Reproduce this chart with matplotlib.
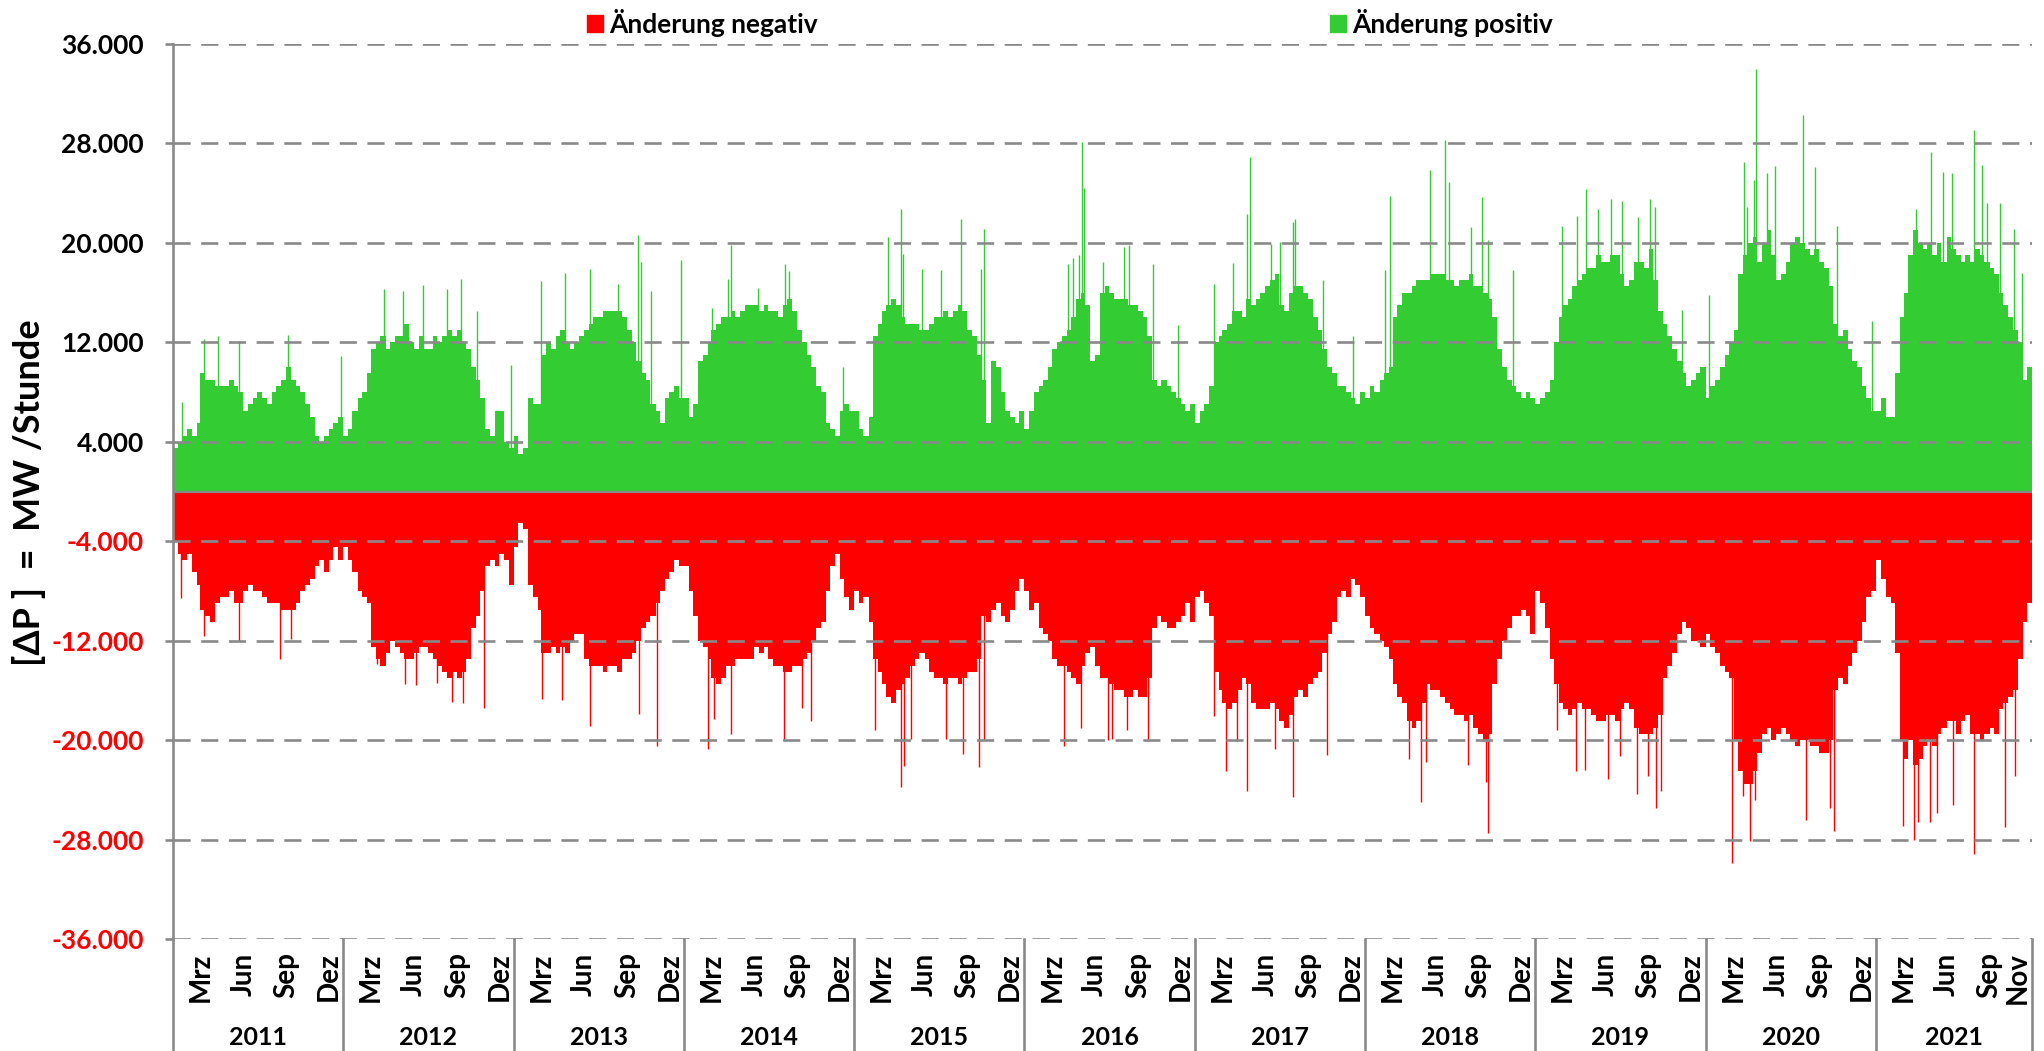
import numpy as np
import pandas as pd
import matplotlib
matplotlib.use('Agg')
import matplotlib.pyplot as plt
import matplotlib.dates as mdates
import matplotlib.transforms as mtransforms
from matplotlib.patches import Patch
from matplotlib.font_manager import FontProperties

plt.rcParams['font.family'] = ['Lato', 'DejaVu Sans']

years = list(range(2011, 2022))

# Werte je Dekade (1.-10., 11.-20., 21.-Monatsende), in 1000 MW
pos_2011 = [3.5, 4.0, 4.5, 5.0, 4.5, 5.5, 9.5, 9.0, 9.0, 8.5, 8.5, 8.5, 9.0, 8.5, 8.0, 6.5, 7.0, 7.5,
            8.0, 7.5, 7.0, 8.0, 8.5, 9.0, 10.0, 9.0, 8.5, 8.0, 7.0, 6.0, 4.5, 4.0, 4.5, 5.0, 5.5, 6.0]
pos_2012 = [4.5, 5.0, 6.5, 7.5, 8.0, 9.5, 11.5, 12.0, 12.5, 11.5, 12.0, 12.5, 12.5, 13.5, 12.0, 11.5, 12.5, 11.5,
            11.5, 12.5, 12.0, 12.5, 13.0, 12.5, 13.0, 12.0, 11.5, 10.0, 9.0, 7.5, 5.0, 4.5, 6.5, 6.5, 4.0, 3.5]
pos_2013 = [4.5, 3.0, 3.5, 7.5, 7.0, 7.0, 11.0, 12.0, 11.5, 12.5, 13.0, 12.0, 11.5, 12.0, 12.5, 13.0, 13.5, 14.0,
            14.0, 14.5, 14.5, 14.5, 14.5, 14.0, 13.0, 12.0, 10.5, 9.5, 9.0, 7.0, 6.5, 5.5, 7.5, 8.0, 8.5, 7.5]
pos_2014 = [7.5, 6.0, 7.0, 10.5, 11.0, 12.0, 13.0, 13.5, 14.0, 14.0, 14.5, 14.0, 14.5, 15.0, 15.0, 15.0, 14.5, 15.0,
            14.5, 14.5, 14.0, 15.0, 15.5, 14.5, 13.0, 12.0, 11.0, 10.0, 8.5, 8.0, 5.5, 5.0, 4.5, 6.5, 7.0, 6.5]
pos_2015 = [6.5, 5.0, 4.5, 6.0, 12.5, 13.5, 14.5, 15.0, 15.5, 15.0, 14.0, 13.5, 13.5, 13.5, 13.0, 13.0, 13.5, 14.0,
            14.0, 14.5, 14.0, 14.5, 15.0, 14.5, 13.0, 12.5, 11.0, 9.0, 5.5, 10.5, 10.0, 8.0, 6.5, 6.0, 5.5, 6.5]
pos_2016 = [5.0, 6.5, 8.0, 8.5, 9.0, 10.0, 11.5, 12.0, 12.5, 13.0, 14.0, 15.5, 16.0, 15.0, 10.5, 11.0, 16.0, 16.5,
            16.0, 15.5, 15.5, 15.5, 15.0, 15.0, 14.5, 14.0, 12.5, 9.0, 8.5, 9.0, 8.5, 8.0, 7.5, 7.0, 6.5, 7.0]
pos_2017 = [5.5, 6.5, 7.0, 8.5, 12.0, 12.5, 13.0, 13.5, 14.5, 14.5, 14.0, 15.5, 15.0, 15.5, 16.0, 16.5, 17.0, 17.5,
            15.0, 14.5, 16.0, 16.5, 16.5, 16.0, 15.5, 14.0, 13.0, 11.5, 10.0, 9.5, 8.5, 8.5, 8.0, 7.5, 7.0, 8.0]
pos_2018 = [7.5, 8.5, 8.0, 9.0, 9.5, 10.0, 14.0, 15.0, 16.0, 16.0, 16.5, 17.0, 17.0, 17.0, 17.5, 17.5, 17.5, 17.0,
            17.0, 16.5, 17.0, 17.0, 17.5, 16.5, 16.5, 16.0, 15.5, 14.0, 11.5, 10.0, 9.0, 8.5, 8.0, 7.5, 8.0, 7.5]
pos_2019 = [7.0, 7.5, 8.0, 9.0, 12.0, 14.0, 15.0, 15.5, 16.5, 17.0, 17.5, 18.0, 18.0, 19.0, 18.5, 18.5, 19.0, 19.0,
            17.5, 16.5, 17.0, 18.5, 18.5, 18.0, 19.5, 17.0, 14.5, 13.5, 12.5, 11.5, 10.5, 9.5, 8.5, 9.0, 9.5, 10.0]
pos_2020 = [7.5, 8.5, 9.0, 10.0, 11.0, 12.0, 13.0, 17.5, 19.0, 20.0, 20.5, 18.5, 20.0, 21.0, 19.0, 17.0, 17.5, 18.5,
            20.0, 20.5, 20.0, 19.5, 19.0, 19.5, 18.5, 18.0, 16.5, 13.5, 12.5, 13.0, 11.5, 10.5, 10.0, 8.5, 7.5, 6.5]
pos_2021 = [6.5, 7.5, 6.0, 6.0, 9.5, 14.0, 16.0, 19.0, 21.0, 20.0, 19.5, 20.0, 19.0, 20.0, 18.5, 20.5, 19.5, 19.0,
            18.5, 19.0, 18.5, 19.5, 19.0, 18.5, 18.0, 17.5, 16.0, 15.0, 14.0, 13.0, 12.0, 9.0, 10.0]

neg_2011 = [-4.0, -5.0, -5.5, -5.0, -6.5, -7.5, -9.5, -10.0, -10.5, -9.0, -8.5, -8.5, -8.0, -9.0, -9.0, -8.0, -7.5, -8.0,
            -8.0, -8.5, -9.0, -9.0, -9.0, -9.5, -9.5, -9.5, -9.0, -8.0, -7.5, -7.0, -6.0, -5.5, -6.5, -5.5, -4.5, -5.5]
neg_2012 = [-4.5, -5.5, -6.5, -8.0, -8.5, -9.0, -12.5, -13.5, -14.0, -13.0, -12.0, -12.5, -13.0, -13.5, -13.5, -13.0, -12.5, -12.5,
            -13.0, -13.5, -14.0, -14.5, -15.0, -14.5, -15.0, -14.5, -13.5, -11.0, -10.0, -8.0, -6.0, -5.5, -6.0, -5.0, -5.5, -7.5]
neg_2013 = [-4.5, -2.5, -3.0, -7.5, -8.5, -9.5, -13.0, -13.0, -12.5, -13.0, -12.5, -13.0, -12.0, -11.5, -11.5, -13.5, -14.0, -14.0,
            -14.0, -14.5, -14.0, -14.0, -14.5, -13.5, -13.5, -13.0, -12.0, -11.0, -10.5, -10.0, -9.0, -8.0, -7.0, -6.5, -5.5, -6.0]
neg_2014 = [-6.0, -8.0, -10.0, -12.0, -12.5, -13.5, -15.0, -15.5, -15.0, -14.0, -14.0, -13.5, -13.5, -13.5, -13.5, -12.5, -13.0, -12.5,
            -13.5, -14.0, -14.0, -14.5, -14.5, -14.0, -14.0, -13.5, -13.0, -12.0, -11.0, -10.5, -8.0, -6.0, -5.0, -7.0, -8.5, -9.5]
neg_2015 = [-8.0, -9.0, -8.5, -10.5, -13.5, -14.5, -15.5, -16.5, -17.0, -16.0, -15.5, -15.0, -14.0, -13.5, -13.0, -13.5, -14.5, -15.0,
            -15.0, -15.5, -15.0, -15.0, -15.5, -15.0, -14.5, -14.5, -13.5, -10.0, -10.5, -9.5, -9.0, -10.0, -10.5, -9.5, -8.0, -7.0]
neg_2016 = [-8.0, -9.5, -9.0, -11.0, -11.5, -12.0, -13.5, -14.0, -14.0, -14.5, -15.0, -15.5, -14.0, -13.0, -12.5, -14.0, -15.0, -15.0,
            -15.5, -16.0, -16.0, -16.5, -16.5, -16.0, -16.5, -16.5, -15.0, -11.0, -10.0, -10.5, -11.0, -11.0, -10.5, -10.0, -9.0, -10.5]
neg_2017 = [-8.5, -8.0, -9.0, -10.0, -14.5, -16.0, -17.0, -17.5, -17.0, -16.0, -15.0, -15.5, -17.0, -17.5, -17.5, -17.5, -17.0, -17.5,
            -18.5, -19.0, -18.0, -16.5, -16.0, -16.5, -15.5, -15.0, -14.5, -13.0, -11.5, -10.5, -8.5, -8.0, -8.5, -7.0, -7.5, -8.5]
neg_2018 = [-10.0, -11.0, -11.5, -12.0, -12.5, -13.5, -15.5, -16.5, -17.0, -18.5, -19.0, -18.5, -17.0, -15.5, -16.0, -16.0, -16.5, -17.0,
            -17.5, -18.0, -18.0, -18.5, -18.0, -19.0, -19.5, -20.0, -19.5, -15.5, -13.5, -12.0, -11.0, -10.0, -10.0, -9.5, -10.0, -11.5]
neg_2019 = [-8.0, -9.0, -11.0, -13.5, -15.5, -17.0, -17.5, -18.0, -17.5, -17.0, -17.5, -17.5, -18.0, -18.5, -18.5, -18.0, -18.0, -18.5,
            -17.5, -17.0, -17.5, -19.0, -19.5, -19.5, -19.5, -19.0, -18.0, -15.0, -14.0, -13.0, -11.5, -10.5, -11.0, -12.0, -12.0, -12.5]
neg_2020 = [-11.5, -12.5, -13.0, -14.0, -14.5, -15.0, -20.0, -22.5, -23.5, -23.5, -22.5, -21.0, -19.5, -19.0, -20.0, -19.5, -19.0, -19.5,
            -20.0, -20.5, -20.0, -20.0, -20.5, -20.5, -21.0, -21.0, -20.0, -16.0, -15.0, -15.5, -14.0, -13.0, -12.0, -10.5, -8.5, -8.0]
neg_2021 = [-5.5, -7.0, -8.5, -9.0, -13.0, -20.0, -21.5, -20.0, -22.0, -21.5, -20.5, -20.0, -20.5, -19.5, -19.0, -18.5, -18.5, -19.5,
            -18.5, -18.0, -19.5, -19.5, -20.0, -19.5, -19.0, -19.5, -17.5, -17.0, -16.5, -16.0, -13.5, -10.5, -9.0]

pos_dekaden = [pos_2011, pos_2012, pos_2013, pos_2014, pos_2015, pos_2016,
               pos_2017, pos_2018, pos_2019, pos_2020, pos_2021]
neg_dekaden = [neg_2011, neg_2012, neg_2013, neg_2014, neg_2015, neg_2016,
               neg_2017, neg_2018, neg_2019, neg_2020, neg_2021]

# einzelne Tagesspitzen (Datum, 1000 MW)
spitzen_pos_datum = ['2011-01-20', '2011-03-09', '2011-04-08', '2011-05-23', '2011-09-04', '2011-12-27',
                     '2012-03-29', '2012-05-09', '2012-06-19', '2012-08-10', '2012-09-09', '2012-10-13', '2012-12-25',
                     '2013-02-27', '2013-04-21', '2013-06-12', '2013-08-11', '2013-09-25', '2013-09-30', '2013-10-21', '2013-12-25',
                     '2014-03-02', '2014-04-05', '2014-04-11', '2014-06-08', '2014-08-06', '2014-08-14', '2014-12-07',
                     '2015-03-14', '2015-04-10', '2015-04-15', '2015-05-26', '2015-07-05', '2015-08-18', '2015-09-29', '2015-10-07',
                     '2016-04-04', '2016-04-14', '2016-04-27', '2016-05-04', '2016-05-07', '2016-06-18', '2016-08-02',
                     '2016-08-11', '2016-10-03', '2016-11-26',
                     '2017-02-11', '2017-03-23', '2017-04-22', '2017-04-29', '2017-06-13', '2017-07-01', '2017-07-29',
                     '2017-08-03', '2017-10-03', '2017-12-06',
                     '2018-02-13', '2018-02-23', '2018-05-19', '2018-06-21', '2018-06-29', '2018-08-16', '2018-09-09',
                     '2018-09-20', '2018-11-14',
                     '2019-02-27', '2019-03-31', '2019-04-20', '2019-05-14', '2019-06-11', '2019-07-05', '2019-08-08',
                     '2019-09-03', '2019-09-15', '2019-11-10',
                     '2020-01-08', '2020-03-22', '2020-03-29', '2020-04-13', '2020-04-18', '2020-05-11', '2020-05-28',
                     '2020-07-28', '2020-08-22', '2020-10-08', '2020-12-23',
                     '2021-03-27', '2021-04-28', '2021-05-23', '2021-06-11', '2021-07-30', '2021-08-15', '2021-08-26',
                     '2021-09-22', '2021-10-23', '2021-11-09']
spitzen_pos_wert = [7.2, 12.3, 12.5, 12.1, 12.6, 10.9,
                    16.3, 16.1, 16.6, 16.3, 17.1, 14.5, 10.2,
                    16.9, 17.6, 17.9, 16.7, 20.6, 18.5, 16.1, 18.6,
                    14.8, 17.1, 19.8, 16.4, 18.3, 17.7, 10.0,
                    20.5, 22.7, 19.1, 17.9, 17.8, 21.9, 17.9, 21.1,
                    18.3, 18.8, 19.0, 28.1, 24.4, 18.5, 19.7, 19.8, 18.3, 13.4,
                    16.7, 18.4, 22.3, 26.9, 19.9, 20.1, 21.7, 21.9, 17.0, 12.5,
                    17.8, 23.8, 25.9, 28.3, 24.9, 21.3, 23.7, 20.2, 17.8,
                    21.4, 22.2, 24.3, 22.7, 23.5, 23.4, 22.1, 23.5, 22.9, 14.6,
                    15.8, 26.5, 22.9, 25.1, 34.0, 25.6, 26.2, 30.3, 26.1, 21.4, 13.7,
                    22.7, 27.3, 25.7, 25.6, 29.1, 26.3, 23.2, 23.2, 21.1, 17.6]

spitzen_neg_datum = ['2011-01-17', '2011-03-09', '2011-05-23', '2011-08-18', '2011-09-11',
                     '2012-03-14', '2012-05-12', '2012-06-05', '2012-07-19', '2012-08-20', '2012-09-13', '2012-10-29',
                     '2013-03-02', '2013-04-14', '2013-06-12', '2013-09-27', '2013-11-04',
                     '2014-02-20', '2014-03-05', '2014-04-12', '2014-08-04', '2014-09-11', '2014-09-30',
                     '2015-02-14', '2015-04-11', '2015-04-17', '2015-05-03', '2015-07-16', '2015-08-21', '2015-09-26', '2015-10-06',
                     '2016-03-26', '2016-05-02', '2016-06-27', '2016-07-06', '2016-08-08', '2016-09-22',
                     '2017-02-11', '2017-03-07', '2017-04-01', '2017-04-22', '2017-06-21', '2017-07-29', '2017-10-11',
                     '2018-04-04', '2018-04-30', '2018-05-12', '2018-08-10', '2018-09-16', '2018-09-20',
                     '2019-02-15', '2019-03-28', '2019-04-16', '2019-06-05', '2019-07-01', '2019-08-06', '2019-08-30',
                     '2019-09-17', '2019-09-27',
                     '2020-02-26', '2020-03-20', '2020-04-05', '2020-04-16', '2020-08-04', '2020-09-23', '2020-10-02',
                     '2021-02-26', '2021-03-23', '2021-04-01', '2021-04-25', '2021-05-11', '2021-06-14', '2021-07-30',
                     '2021-10-03', '2021-10-25']
spitzen_neg_wert = [-8.6, -11.6, -12.0, -13.5, -11.9,
                    -13.9, -15.5, -15.6, -15.4, -16.9, -17.0, -17.4,
                    -16.7, -16.8, -18.9, -17.9, -20.5,
                    -20.7, -18.3, -19.5, -20.0, -17.4, -18.5,
                    -19.2, -23.8, -22.1, -19.9, -19.9, -21.1, -22.2, -20.0,
                    -20.5, -19.0, -20.0, -19.9, -19.2, -20.1,
                    -18.1, -22.5, -20.1, -24.1, -20.7, -24.6, -21.2,
                    -21.5, -25.0, -21.8, -22.0, -23.4, -27.5,
                    -19.2, -22.5, -22.4, -23.1, -21.3, -24.3, -22.9, -25.5, -24.1,
                    -29.9, -24.5, -28.1, -24.8, -26.4, -25.5, -27.3,
                    -26.9, -28.0, -26.6, -26.6, -25.9, -25.2, -29.2, -27.0, -22.9]

GRUEN = '#33CC33'
ROT = '#FF0000'
GRAU = '#898989'
FAM = ['Lato', 'DejaVu Sans']
tick_font = FontProperties(family=FAM, weight='bold', size=19)
leg_font = FontProperties(family=FAM, weight='bold', size=19)


def dekaden_grenzen(jahr, anzahl):
    starts, ends = [], []
    for i in range(anzahl):
        monat_start = pd.Timestamp(jahr, i // 3 + 1, 1)
        s = monat_start + pd.Timedelta(days=10 * (i % 3))
        if i % 3 < 2:
            e = s + pd.Timedelta(days=10)
        else:
            e = monat_start + pd.offsets.MonthBegin(1)
        starts.append(mdates.date2num(s))
        ends.append(mdates.date2num(e))
    return np.array(starts), np.array(ends)


fig = plt.figure(figsize=(20.44, 10.51), dpi=100)
ax = fig.add_axes([0.0846, 0.1066, 0.9095, 0.8515])

for jahr, pv, nv in zip(years, pos_dekaden, neg_dekaden):
    s, e = dekaden_grenzen(jahr, len(pv))
    ax.bar(s, np.array(pv) * 1000, width=e - s, align='edge', color=GRUEN, linewidth=0, zorder=2)
    ax.bar(s, np.array(nv) * 1000, width=e - s, align='edge', color=ROT, linewidth=0, zorder=2)

xp = mdates.date2num(pd.to_datetime(spitzen_pos_datum)) + 0.5
ax.vlines(xp, 0, np.array(spitzen_pos_wert) * 1000, colors=GRUEN, lw=1.0, zorder=2)
xn = mdates.date2num(pd.to_datetime(spitzen_neg_datum)) + 0.5
ax.vlines(xn, 0, np.array(spitzen_neg_wert) * 1000, colors=ROT, lw=1.0, zorder=2)

x0 = mdates.date2num(pd.Timestamp('2011-01-01'))
x1 = mdates.date2num(pd.Timestamp('2021-12-01'))
ax.set_xlim(x0, x1)
ax.set_ylim(-36000, 36000)

yticks = np.arange(-36000, 36001, 8000)
for v in yticks:
    ax.axhline(v, color=GRAU, lw=1.9, linestyle=(0, (6.5, 4)), zorder=3)
ax.axhline(0, color=GRAU, lw=1.6, zorder=3)

ax.set_yticks(yticks)
ax.set_yticklabels([f'{v:,}'.replace(',', '.') for v in yticks])
for lab, v in zip(ax.get_yticklabels(), yticks):
    lab.set_color('black' if v > 0 else ROT)
    lab.set_fontproperties(tick_font)
ax.tick_params(axis='y', direction='out', length=6, width=1.9, color=GRAU, pad=15)
ax.set_xticks([])

for side in ['top', 'right', 'bottom']:
    ax.spines[side].set_visible(False)
ax.spines['left'].set_color(GRAU)
ax.spines['left'].set_linewidth(1.9)

# Monats- und Jahresbeschriftung unter der Achse
trans = mtransforms.blended_transform_factory(ax.transData, ax.transAxes)
grenzen = [pd.Timestamp(j, 1, 1) for j in years] + [pd.Timestamp('2021-12-01')]
for g in grenzen:
    xg = mdates.date2num(g)
    ax.plot([xg, xg], [0, -0.13], transform=trans, color=GRAU, lw=1.9, clip_on=False, zorder=4)

for jahr in years:
    monate = [(3, 'Mrz'), (6, 'Jun'), (9, 'Sep'), (12, 'Dez')]
    if jahr == 2021:
        monate = [(3, 'Mrz'), (6, 'Jun'), (9, 'Sep'), (11, 'Nov')]
    for m, name in monate:
        xm = mdates.date2num(pd.Timestamp(jahr, m, 1))
        ax.text(xm, -0.015, name, transform=trans, rotation=90, ha='center', va='top',
                fontsize=20, fontweight='bold')
    ende = pd.Timestamp(jahr + 1, 1, 1) if jahr < 2021 else pd.Timestamp('2021-12-01')
    xmid = (mdates.date2num(pd.Timestamp(jahr, 1, 1)) + mdates.date2num(ende)) / 2
    ax.text(xmid, -0.11, str(jahr), transform=trans, ha='center', va='center',
            fontsize=18, fontweight='bold')

fig.text(0.0142, 0.531, '[ΔP ]  =  MW /Stunde', rotation=90, ha='center', va='center',
         fontsize=26, fontweight='bold')

for farbe, text, xpos in [(ROT, 'Änderung negativ', 587 / 2044), (GRUEN, 'Änderung positiv', 1330 / 2044)]:
    fig.legend([Patch(color=farbe)], [text], loc='center left', bbox_to_anchor=(xpos, 0.978),
               frameon=False, prop=leg_font, borderaxespad=0, borderpad=0,
               handlelength=0.6, handleheight=0.6, handletextpad=0.25)

fig.savefig('out.png', dpi=100)
